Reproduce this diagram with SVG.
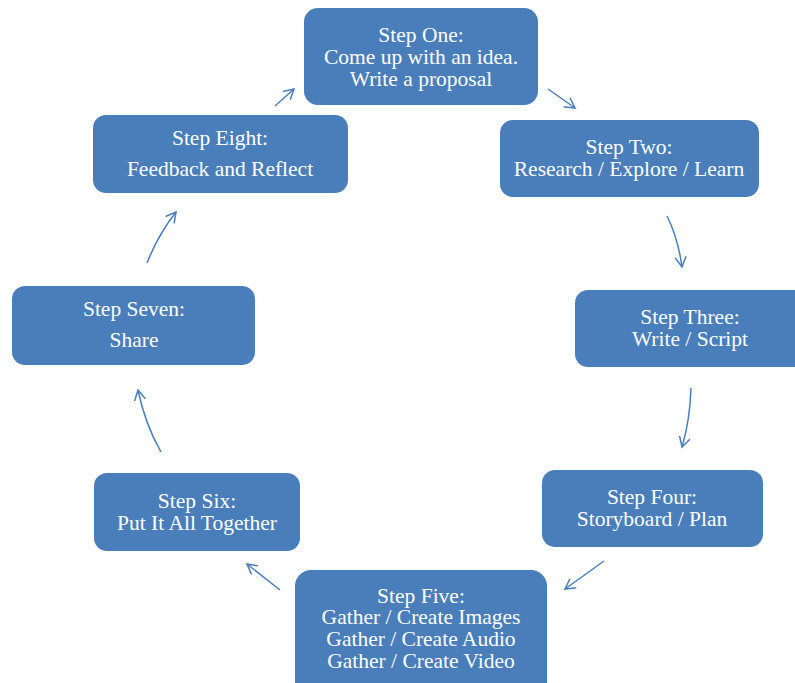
<svg xmlns="http://www.w3.org/2000/svg" width="795" height="683" viewBox="0 0 795 683">
<style>
.box{fill:#4A7EBB;}
.t{font-family:"Liberation Serif","Times New Roman",serif;font-size:21.5px;fill:#ffffff;text-anchor:middle;}
.c{fill:none;stroke:#4A7EBB;stroke-width:1.5;}
</style>
<defs>
<marker id="ah" markerUnits="userSpaceOnUse" markerWidth="14" markerHeight="14" refX="11" refY="6" orient="auto">
<path d="M1,0.5 L11,6 L1,11.5" fill="none" stroke="#4A7EBB" stroke-width="1.5"/>
</marker>
</defs>
<rect width="795" height="683" fill="#ffffff"/>
<g id="step1"><rect class="box" x="304" y="8" width="234" height="97" rx="14"/>
<text class="t" x="421" y="42">Step One:</text><text class="t" x="421" y="64">Come up with an idea.</text><text class="t" x="421" y="86">Write a proposal</text></g>
<g id="step2"><rect class="box" x="500" y="120" width="259" height="77" rx="13"/>
<text class="t" x="629" y="154">Step Two:</text><text class="t" x="629" y="176">Research / Explore / Learn</text></g>
<g id="step3"><rect class="box" x="575" y="290" width="235" height="77" rx="13"/>
<text class="t" x="690" y="324">Step Three:</text><text class="t" x="690" y="346">Write / Script</text></g>
<g id="step4"><rect class="box" x="542" y="470" width="221" height="77" rx="13"/>
<text class="t" x="652" y="504">Step Four:</text><text class="t" x="652" y="526">Storyboard / Plan</text></g>
<g id="step5"><rect class="box" x="295" y="570" width="252" height="130" rx="16"/>
<text class="t" x="421" y="603">Step Five:</text><text class="t" x="421" y="624">Gather / Create Images</text><text class="t" x="421" y="646">Gather / Create Audio</text><text class="t" x="421" y="668">Gather / Create Video</text></g>
<g id="step6"><rect class="box" x="94" y="473" width="206" height="78" rx="13"/>
<text class="t" x="197" y="508">Step Six:</text><text class="t" x="197" y="530">Put It All Together</text></g>
<g id="step7"><rect class="box" x="12" y="286" width="243" height="79" rx="13"/>
<text class="t" x="134" y="316">Step Seven:</text><text class="t" x="134" y="347">Share</text></g>
<g id="step8"><rect class="box" x="93" y="115" width="255" height="78" rx="13"/>
<text class="t" x="220" y="145">Step Eight:</text><text class="t" x="220" y="176">Feedback and Reflect</text></g>
<g id="connectors">
<path class="c" marker-end="url(#ah)" d="M548,89 L575,108"/>
<path class="c" marker-end="url(#ah)" d="M667,216 Q678,238 682,267"/>
<path class="c" marker-end="url(#ah)" d="M691,388 Q690,420 682,447"/>
<path class="c" marker-end="url(#ah)" d="M604,561 L565,589"/>
<path class="c" marker-end="url(#ah)" d="M280,590 L247,564"/>
<path class="c" marker-end="url(#ah)" d="M161,452 Q145,424 138,390"/>
<path class="c" marker-end="url(#ah)" d="M147,263 Q158,235 176,212"/>
<path class="c" marker-end="url(#ah)" d="M275,106 L294,89"/>
</g>
</svg>
